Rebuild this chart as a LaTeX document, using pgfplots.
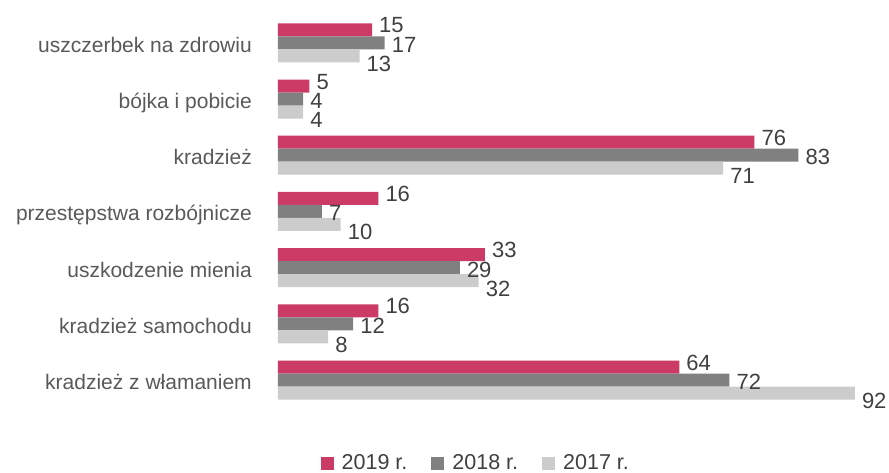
\documentclass[border=0pt]{standalone}
\usepackage{pgfplots}
\pgfplotsset{compat=1.18}
\usepackage{pgfplotstable}
\usepackage{fontspec}
\setmainfont{Liberation Sans}

\definecolor{c2019}{HTML}{CC3A66}
\definecolor{c2018}{HTML}{808080}
\definecolor{c2017}{HTML}{CCCCCC}
\definecolor{vtxt}{HTML}{404040}
\definecolor{ctxt}{HTML}{595959}

% idx: 0 = top category
\pgfplotstableread{
idx y2019 y2018 y2017
0 15 17 13
1 5 4 4
2 76 83 71
3 16 7 10
4 33 29 32
5 16 12 8
6 64 72 92
}\dane

\begin{document}
\begin{tikzpicture}
\begin{axis}[
    xbar,
    scale only axis,
    width=576.8pt, height=393.4pt,
    xmin=0, xmax=92,
    ymin=-0.5, ymax=6.5,
    y dir=reverse,
    clip=false,
    bar width=13pt,
    axis lines*=left,
    axis line style={draw=none},
    major tick length=0pt,
    xtick=\empty,
    ytick={0,...,6},
    yticklabels={uszczerbek na zdrowiu, bójka i pobicie, kradzież, przestępstwa rozbójnicze, uszkodzenie mienia, kradzież samochodu, kradzież z włamaniem},
    yticklabel style={font=\fontsize{21}{25}\selectfont, text=ctxt, inner sep=0pt, anchor=base east, xshift=-26pt, yshift=-9.5pt},
    /pgf/number format/assume math mode=true,
    nodes near coords,
    nodes near coords style={font=\fontsize{22}{26}\selectfont, text=vtxt, inner sep=0pt, anchor=base west, xshift=7pt},
    legend style={at={(0.343,-0.14)}, anchor=center, draw=none, legend columns=3,
        font=\fontsize{21.5}{25}\selectfont, text=vtxt,
        /tikz/every odd column/.append style={column sep=6pt},
        /tikz/every even column/.append style={column sep=22pt}},
    legend image code/.code={\fill[#1] (0pt,-6.5pt) rectangle (13pt,6.5pt);},
]
\addplot[fill=c2019, draw=none, bar shift=13pt, nodes near coords style={yshift=-3pt}] table[x=y2019, y=idx] {\dane};
\addplot[fill=c2018, draw=none, bar shift=0pt, nodes near coords style={yshift=-9.5pt}] table[x=y2018, y=idx] {\dane};
\addplot[fill=c2017, draw=none, bar shift=-13pt, nodes near coords style={yshift=-15.5pt}] table[x=y2017, y=idx] {\dane};
\legend{2019 r., 2018 r., 2017 r.}
\end{axis}
\pgfresetboundingbox
\path (current axis.south west) ++(-278pt,-64.9pt) rectangle ++(889pt,473pt);
\end{tikzpicture}
\end{document}
